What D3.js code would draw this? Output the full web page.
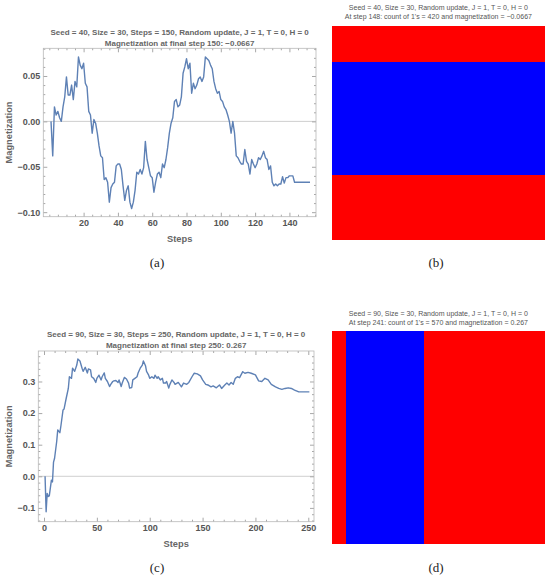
<!DOCTYPE html>
<html>
<head>
<meta charset="utf-8">
<script src="https://cdn.jsdelivr.net/npm/d3@7"></script>
<style>
  body { margin: 0; background: #fff; }
  svg { display: block; }
  .tick text { font-family: "Liberation Sans", Arial, sans-serif; font-weight: bold; font-size: 9px; fill: #555; }
  .tick line { stroke: #a8a8a8; }
  .plot-title { font-family: "Liberation Sans", Arial, sans-serif; font-weight: bold; font-size: 8px; fill: #666; }
  .grid-title { font-family: "Liberation Sans", Arial, sans-serif; font-size: 7px; fill: #555; }
  .axis-label { font-family: "Liberation Sans", Arial, sans-serif; font-weight: bold; font-size: 9.3px; fill: #666; }
  .panel-label { font-family: "Liberation Serif", "DejaVu Serif", serif; font-size: 13px; fill: #222; }
</style>
</head>
<body>
<svg id="chart" width="550" height="580"></svg>
<script>
// magnetization per step, seed 40 run (index 0 -> step 1)
var magA = [
  0.000, -0.038, 0.016, 0.007, 0.011, 0.004, 0.000, 0.016, 0.027, 0.049,
  0.029, 0.029, 0.040, 0.024, 0.044, 0.038, 0.071, 0.062, 0.058, 0.064,
  0.042, 0.038, 0.011, 0.007, -0.013, 0.002, -0.002, -0.013, -0.027, -0.038,
  -0.040, -0.064, -0.062, -0.067, -0.089, -0.073, -0.069, -0.067, -0.049, -0.047,
  -0.047, -0.053, -0.071, -0.087, -0.076, -0.071, -0.089, -0.096, -0.089, -0.076,
  -0.056, -0.058, -0.053, -0.058, -0.051, -0.022, -0.042, -0.051, -0.060, -0.062,
  -0.078, -0.067, -0.058, -0.056, -0.062, -0.047, -0.051, -0.042, -0.029, -0.013,
  -0.002, 0.004, 0.022, 0.024, 0.016, 0.018, 0.027, 0.053, 0.060, 0.069,
  0.058, 0.064, 0.031, 0.042, 0.036, 0.040, 0.047, 0.049, 0.044, 0.049,
  0.071, 0.069, 0.067, 0.062, 0.058, 0.044, 0.036, 0.031, 0.033, 0.024,
  0.022, 0.016, 0.013, 0.007, 0.000, -0.013, 0.000, -0.013, -0.038, -0.040,
  -0.044, -0.047, -0.047, -0.031, -0.044, -0.047, -0.058, -0.042, -0.047, -0.051,
  -0.047, -0.040, -0.042, -0.038, -0.033, -0.040, -0.042, -0.053, -0.049, -0.067,
  -0.071, -0.069, -0.071, -0.069, -0.069, -0.061, -0.068, -0.062, -0.062, -0.060,
  -0.060, -0.060, -0.067, -0.067, -0.067, -0.067, -0.067, -0.067, -0.067, -0.067,
  -0.067, -0.067
];

// seed 90 run, read at the visible turning points
var stepsC = [1, 2, 3, 4, 5, 7, 8, 9, 10, 12, 13, 15, 16, 18, 19, 21, 23, 24, 26, 27,
  29, 31, 32, 34, 36, 37, 39, 41, 42, 44, 45, 47, 49, 50, 52, 54, 55, 57, 58, 60,
  62, 63, 65, 66, 68, 70, 71, 73, 74, 76, 78, 80, 81, 83, 84, 86, 88, 89, 91, 93,
  94, 96, 97, 99, 100, 102, 104, 105, 107, 108, 110, 112, 113, 115, 116, 118, 119, 121, 123, 124,
  127, 130, 132, 135, 137, 140, 142, 145, 148, 150, 153, 155, 158, 160, 163, 166, 168, 171, 173, 175,
  177, 179, 181, 183, 185, 188, 190, 193, 196, 200, 203, 206, 209, 212, 215, 219, 222, 225, 228, 231,
  234, 237, 241, 251];
var magC = [0.000, -0.112, -0.054, -0.064, -0.062, -0.012, -0.018, 0.045, 0.057, 0.110,
  0.147, 0.138, 0.160, 0.210, 0.213, 0.247, 0.278, 0.315, 0.310, 0.342,
  0.332, 0.352, 0.371, 0.365, 0.342, 0.332, 0.345, 0.327, 0.340, 0.337,
  0.315, 0.310, 0.297, 0.310, 0.320, 0.305, 0.315, 0.327, 0.310, 0.300,
  0.284, 0.290, 0.300, 0.302, 0.303, 0.297, 0.305, 0.284, 0.295, 0.313,
  0.308, 0.295, 0.279, 0.281, 0.305, 0.310, 0.315, 0.327, 0.342, 0.352,
  0.365, 0.350, 0.332, 0.320, 0.310, 0.315, 0.310, 0.320, 0.310, 0.315,
  0.305, 0.310, 0.295, 0.295, 0.300, 0.279, 0.290, 0.305, 0.297, 0.291,
  0.297, 0.283, 0.295, 0.291, 0.297, 0.315, 0.326, 0.324, 0.318, 0.305,
  0.291, 0.289, 0.283, 0.286, 0.280, 0.289, 0.278, 0.289, 0.295, 0.289,
  0.297, 0.291, 0.310, 0.315, 0.312, 0.331, 0.326, 0.329, 0.326, 0.321,
  0.302, 0.300, 0.310, 0.305, 0.291, 0.283, 0.278, 0.275, 0.278, 0.280,
  0.278, 0.273, 0.267, 0.267];

// final lattices: (b) each row is uniform, (d) each column is uniform. 1 = red, -1 = blue
var rowSpinsB = [1, 1, 1, 1, 1,
  -1, -1, -1, -1, -1, -1, -1, -1, -1, -1, -1, -1, -1, -1, -1, -1,
  1, 1, 1, 1, 1, 1, 1, 1, 1];
var colSpinsD = [1, 1,
  -1, -1, -1, -1, -1, -1, -1, -1, -1, -1, -1,
  1, 1, 1, 1, 1, 1, 1, 1, 1, 1, 1, 1, 1, 1, 1, 1, 1];

var titleA = ["Seed = 40, Size = 30, Steps = 150, Random update, J = 1, T = 0, H = 0",
              "Magnetization at final step 150: \u22120.0667"];
var titleB = ["Seed = 40, Size = 30, Random update, J = 1, T = 0, H = 0",
              "At step 148: count of 1's = 420 and magnetization = \u22120.0667"];
var titleC = ["Seed = 90, Size = 30, Steps = 250, Random update, J = 1, T = 0, H = 0",
              "Magnetization at final step 250: 0.267"];
var titleD = ["Seed = 90, Size = 30, Random update, J = 1, T = 0, H = 0",
              "At step 241: count of 1's = 570 and magnetization = 0.267"];

var svg = d3.select('#chart');

function minorValues(domain, step, majors) {
  var lo = Math.ceil(domain[0] / step), hi = Math.floor(domain[1] / step);
  return d3.range(lo, hi + 1).map(function(k) { return +(k * step).toFixed(6); })
    .filter(function(v) { return majors.indexOf(v) == -1; });
}

function drawLinePanel(cfg) {
  var x = d3.scaleLinear().domain(cfg.xDomain).range([cfg.left, cfg.right]);
  var y = d3.scaleLinear().domain(cfg.yDomain).range([cfg.bottom, cfg.top]);
  var g = svg.append('g');

  // axis line at zero
  g.append('line')
      .attr('x1', cfg.left).attr('x2', cfg.right)
      .attr('y1', y(0)).attr('y2', y(0))
      .attr('stroke', '#cfcfcf').attr('stroke-width', 1);

  var xMinor = minorValues(cfg.xDomain, cfg.xMinor, cfg.xTicks);
  var yMinor = minorValues(cfg.yDomain, cfg.yMinor, cfg.yTicks);

  // major ticks with labels, bottom and left
  g.append('g').attr('transform', 'translate(0,' + cfg.bottom + ')')
      .call(d3.axisBottom(x).tickValues(cfg.xTicks).tickSize(-4).tickPadding(3));
  g.append('g').attr('transform', 'translate(' + cfg.left + ',0)')
      .call(d3.axisLeft(y).tickValues(cfg.yTicks).tickFormat(d3.format(cfg.yFormat))
            .tickSize(-4).tickPadding(3));
  // mirrored ticks, top and right
  g.append('g').attr('transform', 'translate(0,' + cfg.top + ')')
      .call(d3.axisTop(x).tickValues(cfg.xTicks).tickSize(-4).tickFormat(''));
  g.append('g').attr('transform', 'translate(' + cfg.right + ',0)')
      .call(d3.axisRight(y).tickValues(cfg.yTicks).tickSize(-4).tickFormat(''));
  // minor ticks on all sides
  g.append('g').attr('transform', 'translate(0,' + cfg.bottom + ')')
      .call(d3.axisBottom(x).tickValues(xMinor).tickSize(-2).tickFormat(''));
  g.append('g').attr('transform', 'translate(0,' + cfg.top + ')')
      .call(d3.axisTop(x).tickValues(xMinor).tickSize(-2).tickFormat(''));
  g.append('g').attr('transform', 'translate(' + cfg.left + ',0)')
      .call(d3.axisLeft(y).tickValues(yMinor).tickSize(-2).tickFormat(''));
  g.append('g').attr('transform', 'translate(' + cfg.right + ',0)')
      .call(d3.axisRight(y).tickValues(yMinor).tickSize(-2).tickFormat(''));
  g.selectAll('.domain').remove();

  // frame
  g.append('rect')
      .attr('x', cfg.left).attr('y', cfg.top)
      .attr('width', cfg.right - cfg.left).attr('height', cfg.bottom - cfg.top)
      .attr('fill', 'none').attr('stroke', '#b8b8b8').attr('stroke-width', 0.8);

  var line = d3.line()
      .x(function(d) { return x(d[0]); })
      .y(function(d) { return y(d[1]); });
  g.append('path')
      .datum(cfg.points)
      .attr('d', line)
      .attr('fill', 'none')
      .attr('stroke', '#5e81b5')
      .attr('stroke-width', 1.4)
      .attr('stroke-linejoin', 'round');

  var cx = (cfg.left + cfg.right) / 2;
  g.selectAll('text.plot-title')
      .data(cfg.title)
    .enter().append('text')
      .attr('class', 'plot-title')
      .attr('x', cx)
      .attr('y', function(d, i) { return cfg.titleY[i]; })
      .attr('dy', '0.35em')
      .attr('text-anchor', 'middle')
      .text(function(d) { return d; });

  g.append('text')
      .attr('class', 'axis-label')
      .attr('transform', 'translate(9,' + ((cfg.top + cfg.bottom) / 2) + ') rotate(-90)')
      .attr('dy', '0.35em')
      .attr('text-anchor', 'middle')
      .text('Magnetization');
  g.append('text')
      .attr('class', 'axis-label')
      .attr('x', cx).attr('y', cfg.bottom + 21.6)
      .attr('dy', '0.35em')
      .attr('text-anchor', 'middle')
      .text('Steps');
}

function drawGridPanel(cfg) {
  var n = 30;
  var idx = d3.range(n);
  var x = d3.scaleBand().domain(idx).range([cfg.left, cfg.left + cfg.size]);
  var y = d3.scaleBand().domain(idx).range([cfg.top, cfg.top + cfg.size]);
  var color = d3.scaleOrdinal().domain([1, -1]).range(['#ff0000', '#0000ff']);
  var cells = [];
  idx.forEach(function(r) {
    idx.forEach(function(c) { cells.push({ r: r, c: c, s: cfg.spin(r, c) }); });
  });
  var g = svg.append('g');
  g.selectAll('rect')
      .data(cells)
    .enter().append('rect')
      .attr('x', function(d) { return x(d.c); })
      .attr('y', function(d) { return y(d.r); })
      .attr('width', x.bandwidth() + 0.3)
      .attr('height', y.bandwidth() + 0.3)
      .attr('fill', function(d) { return color(d.s); })
      .attr('shape-rendering', 'crispEdges');

  g.selectAll('text.grid-title')
      .data(cfg.title)
    .enter().append('text')
      .attr('class', 'grid-title')
      .attr('x', cfg.left + cfg.size / 2)
      .attr('y', function(d, i) { return cfg.titleY[i]; })
      .attr('dy', '0.35em')
      .attr('text-anchor', 'middle')
      .text(function(d) { return d; });
}

function panelLabel(txt, px, py) {
  svg.append('text')
      .attr('class', 'panel-label')
      .attr('x', px).attr('y', py)
      .attr('dy', '0.35em')
      .attr('text-anchor', 'middle')
      .text(txt);
}

drawLinePanel({
  points: magA.map(function(v, i) { return [i + 1, v]; }),
  xDomain: [-3.5, 155.5], yDomain: [-0.105, 0.0805],
  left: 43.3, right: 316, top: 48.3, bottom: 216.7,
  xTicks: [20, 40, 60, 80, 100, 120, 140], xMinor: 5,
  yTicks: [-0.1, -0.05, 0, 0.05], yMinor: 0.01, yFormat: '.2f',
  title: titleA, titleY: [32.3, 43.3]
});

drawLinePanel({
  points: stepsC.map(function(s, i) { return [s, magC[i]]; }),
  xDomain: [-5.4, 255.4], yDomain: [-0.1437, 0.3965],
  left: 38.3, right: 314, top: 351, bottom: 521.7,
  xTicks: [0, 50, 100, 150, 200, 250], xMinor: 10,
  yTicks: [-0.1, 0, 0.1, 0.2, 0.3], yMinor: 0.02, yFormat: '.1f',
  title: titleC, titleY: [334, 345]
});

drawGridPanel({
  spin: function(r, c) { return rowSpinsB[r]; },
  left: 331.7, top: 26, size: 213.3,
  title: titleB, titleY: [7.3, 16.7]
});

drawGridPanel({
  spin: function(r, c) { return colSpinsD[c]; },
  left: 331.7, top: 330.7, size: 213.3,
  title: titleD, titleY: [313.3, 322.3]
});

panelLabel('(a)', 157, 262);
panelLabel('(b)', 436, 262);
panelLabel('(c)', 157, 567);
panelLabel('(d)', 436, 567);
</script>
</body>
</html>
